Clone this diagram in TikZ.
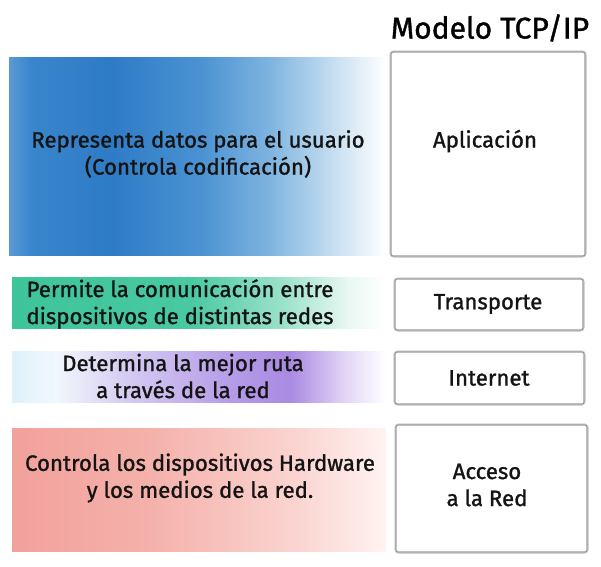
\documentclass[tikz,border=0pt]{standalone}
\usepackage{fontspec}
\setmainfont{Fira Sans}
\newfontfamily\medfont{Fira Sans}[FakeBold=1.2]
\definecolor{txt}{HTML}{141414}
\definecolor{b0}{HTML}{5A9AD6}
\definecolor{b1}{HTML}{3A86CC}
\definecolor{b2}{HTML}{2E7BC6}
\definecolor{b3}{HTML}{4A92D2}
\definecolor{b4}{HTML}{7FB4E0}
\definecolor{b5}{HTML}{C2DCF0}
\definecolor{g0}{HTML}{3EC49A}
\definecolor{g1}{HTML}{48C9A2}
\definecolor{g2}{HTML}{9EE2CC}
\definecolor{g3}{HTML}{E6F7F1}
\definecolor{p0}{HTML}{DCF1FB}
\definecolor{p1}{HTML}{F2F8FC}
\definecolor{p2}{HTML}{D6CCF2}
\definecolor{p3}{HTML}{B59CE8}
\definecolor{p4}{HTML}{A98AE2}
\definecolor{p5}{HTML}{E2D6F6}
\definecolor{r0}{HTML}{F2A19B}
\definecolor{r1}{HTML}{F5B1AB}
\definecolor{r2}{HTML}{FAD5D1}
\definecolor{r3}{HTML}{FFF3F1}
\definecolor{boxline}{HTML}{9C9C9C}
\definecolor{boxshadow}{HTML}{D4D4D4}
\tikzset{
  layerbox/.style={draw=boxline, line width=1.3pt, fill=white, rounded corners=2pt},
  boxshade/.style={draw=boxshadow, line width=3.5pt, rounded corners=3pt},
  lbl/.style={text=txt, font=\medfont\fontsize{22.2}{27}\selectfont, align=center, inner sep=0pt},
  ttl/.style={text=black, font=\medfont\fontsize{30}{32}\selectfont, inner sep=0pt}
}
\begin{document}
\begin{tikzpicture}[x=1pt,y=-1pt]
\useasboundingbox (0,0) rectangle (601,566);
\fill[white] (0,0) rectangle (601,566);
% blue band
\foreach \xa/\ca/\xb/\cb in {9/b0/30/b1, 30/b1/110/b2, 110/b2/200/b3, 200/b3/270/b4, 270/b4/330/b5, 330/b5/385/white}
  \shade[left color=\ca, right color=\cb] (\xa,57) rectangle (\xb+0.6,255);
% green band
\foreach \xa/\ca/\xb/\cb in {12/g0/190/g1, 190/g1/285/g2, 285/g2/345/g3, 345/g3/385/white}
  \shade[left color=\ca, right color=\cb] (\xa,277) rectangle (\xb+0.6,328);
% purple band
\foreach \xa/\ca/\xb/\cb in {12/p0/55/p1, 55/p1/125/p2, 125/p2/230/p3, 230/p3/290/p4, 290/p4/345/p5, 345/p5/385/white}
  \shade[left color=\ca, right color=\cb] (\xa,351) rectangle (\xb+0.6,402);
% red band
\foreach \xa/\ca/\xb/\cb in {12/r0/150/r1, 150/r1/300/r2, 300/r2/385/r3}
  \shade[left color=\ca, right color=\cb] (\xa,428) rectangle (\xb+0.6,551);

% title
\node[ttl] (title) at (490,28) {Modelo TCP/IP};

% boxes
\draw[boxshade] (391,52) rectangle (585,256);
\draw[boxshade] (395,279) rectangle (583,330);
\draw[boxshade] (395,352) rectangle (584,404);
\draw[boxshade] (396,425) rectangle (587,552);
\draw[layerbox] (391,52) rectangle (585,256);
\draw[layerbox] (395,279) rectangle (583,330);
\draw[layerbox] (395,352) rectangle (584,404);
\draw[layerbox] (396,425) rectangle (587,552);

\node[lbl] (app) at (485,141) {Aplicación};
\node[lbl] (tra) at (488,304) {Transporte};
\node[lbl] (int) at (489,378) {Internet};
\node[lbl] (acc) at (487,485) {Acceso\\a la Red};

% descriptions
\node[lbl] (dapp) at (198,154) {Representa datos para el usuario\\(Controla codificación)};
\node[lbl] (dtra) at (180,304) {Permite la comunicación entre\\dispositivos de distintas redes};
\node[lbl] (dint) at (183,376) {Determina la mejor ruta\\a través de la red};
\node[lbl] (dacc) at (200,478) {Controla los dispositivos Hardware\\y los medios de la red.};
\end{tikzpicture}
\end{document}
